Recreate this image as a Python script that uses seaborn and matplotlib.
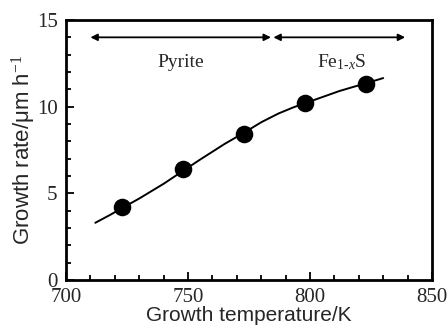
import matplotlib
matplotlib.use("Agg")
import matplotlib.pyplot as plt
from matplotlib.ticker import MultipleLocator
import seaborn as sns
import pandas as pd

# Data
temp_points = [723, 748, 773, 798, 823]
rate_points = [4.2, 6.4, 8.4, 10.2, 11.3]

curve_temp = [712, 718, 723, 730, 740, 748, 755, 765, 773, 780, 787, 793, 798, 805, 812, 818, 823, 830]
curve_rate = [3.3, 3.75, 4.15, 4.7, 5.55, 6.3, 6.95, 7.85, 8.5, 9.1, 9.6, 9.95, 10.2, 10.55, 10.9, 11.15, 11.35, 11.65]

phase_labels = ["Pyrite", "Fe$_{1\\text{-}x}$S"]
phase_start = [710, 785]
phase_end = [784, 839]
phase_label_x = [747, 813]
arrow_y = 14.0
label_y = 12.55

sns.set_theme(style="ticks")
plt.rcParams['font.family'] = ['Liberation Sans', 'DejaVu Sans']
plt.rcParams['mathtext.fontset'] = 'custom'
plt.rcParams['mathtext.rm'] = 'Liberation Serif'
plt.rcParams['mathtext.it'] = 'Liberation Serif:italic'

fig = plt.figure(figsize=(4.48, 3.3), dpi=100)
ax = fig.add_axes([66/448, 50/330, 366/448, 260/330])

curve_df = pd.DataFrame({"T": curve_temp, "R": curve_rate})
pts_df = pd.DataFrame({"T": temp_points, "R": rate_points})
sns.lineplot(data=curve_df, x="T", y="R", color="black", linewidth=1.4, ax=ax, sort=True, estimator=None)
sns.scatterplot(data=pts_df, x="T", y="R", color="black", s=160, edgecolor="black", linewidth=0, ax=ax, zorder=3)

for s, e in zip(phase_start, phase_end):
    ax.annotate("", xy=(s, arrow_y), xytext=(e, arrow_y),
                arrowprops=dict(arrowstyle="<|-|>", color="black", lw=1.3,
                                mutation_scale=10, shrinkA=0, shrinkB=0))
for lbl, x in zip(phase_labels, phase_label_x):
    ax.text(x, label_y, lbl, ha="center", va="center", fontsize=14,
            family="Liberation Serif")

ax.set_xlim(700, 850)
ax.set_ylim(0, 15)
ax.xaxis.set_major_locator(MultipleLocator(50))
ax.xaxis.set_minor_locator(MultipleLocator(10))
ax.yaxis.set_major_locator(MultipleLocator(5))
ax.yaxis.set_minor_locator(MultipleLocator(1))
ax.tick_params(which="both", direction="in", top=False, right=False, width=1.3, color="black")
ax.tick_params(which="major", length=6, labelsize=15)
ax.tick_params(axis="x", which="major", pad=6)
ax.tick_params(axis="y", which="major", pad=6)
ax.tick_params(which="minor", length=3.5)
for lab in ax.get_xticklabels() + ax.get_yticklabels():
    lab.set_family("Liberation Serif")
for sp in ax.spines.values():
    sp.set_visible(True)
    sp.set_linewidth(2)
    sp.set_color("black")

ax.set_xlabel("Growth temperature/K", fontsize=15, labelpad=-1)
ax.set_ylabel("Growth rate/\u03bcm h$^{-1}$", fontsize=16, labelpad=-1)

fig.savefig("out.png", dpi=100)
